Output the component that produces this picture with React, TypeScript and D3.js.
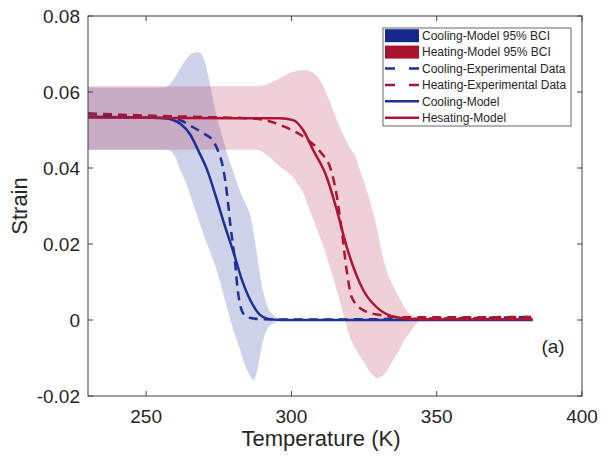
import React from "react";
import * as d3 from "d3";

// ---------- data ----------
const xTicks = [250, 300, 350, 400];
const yTicks = [-0.02, 0, 0.02, 0.04, 0.06, 0.08];
const yTickLabels = ["-0.02", "0", "0.02", "0.04", "0.06", "0.08"];

const coolModelT = [230, 250, 256, 259, 262, 265, 268, 271, 274, 277, 280, 283, 286, 289, 292, 296, 383];
const coolModelS = [0.0535, 0.0533, 0.0531, 0.0527, 0.0515, 0.049, 0.0445, 0.0395, 0.0325, 0.025, 0.018, 0.0105, 0.005, 0.0015, 0.0003, 0.0, 0.0];

const coolExpT = [230, 240, 250, 258, 262, 266, 270, 273, 275, 276.5, 277.8, 279, 280.5, 281.5, 282.5, 284, 286, 290, 300, 340, 383];
const coolExpS = [0.0542, 0.0538, 0.0535, 0.0532, 0.0525, 0.0508, 0.049, 0.0472, 0.044, 0.04, 0.0334, 0.025, 0.016, 0.008, 0.0035, 0.0012, 0.0005, 0.0002, 0.0001, 0.0003, 0.0008];

const heatModelT = [230, 290, 296, 300.6, 304, 307.5, 312.1, 315.6, 319, 324.7, 330.5, 336.2, 342, 383];
const heatModelS = [0.0533, 0.0531, 0.0531, 0.0526, 0.05, 0.0447, 0.0377, 0.029, 0.0193, 0.0079, 0.0026, 0.0007, 0.0002, 0.0002];

const heatExpT = [230, 250, 270, 285, 290.9, 297.8, 304.7, 310, 313.6, 315.3, 317.3, 319, 320.7, 324.7, 330.5, 338.5, 383];
const heatExpS = [0.0544, 0.0538, 0.0534, 0.0531, 0.0526, 0.0508, 0.0479, 0.0442, 0.0395, 0.034, 0.0237, 0.0132, 0.0061, 0.0026, 0.0013, 0.0007, 0.0008];

const coolBandT = [230, 256, 258, 260, 262, 264, 266, 268, 270, 272, 274, 276, 278, 280, 282, 284, 286, 287, 288, 290, 292, 294, 296, 383];
const coolBandHi = [0.0612, 0.0612, 0.062, 0.064, 0.0665, 0.0688, 0.0702, 0.0705, 0.0685, 0.062, 0.0545, 0.049, 0.0435, 0.039, 0.0345, 0.031, 0.027, 0.023, 0.018, 0.0085, 0.003, 0.0012, 0.0002, 0.0001];
const coolBandLo = [0.0448, 0.0448, 0.0446, 0.043, 0.039, 0.0355, 0.031, 0.0265, 0.022, 0.018, 0.0138, 0.0085, 0.0027, -0.0025, -0.007, -0.0118, -0.015, -0.0158, -0.014, -0.0062, -0.002, -0.0008, -0.0001, 0.0];

const heatBandT = [230, 288, 290, 292, 294, 296, 298, 300, 302, 304, 306, 308, 310, 312, 314, 316, 318, 320, 322, 324, 326, 328, 329.5, 331, 333, 335, 337, 339, 341, 343, 345, 383];
const heatBandHi = [0.0615, 0.0615, 0.0617, 0.0622, 0.0628, 0.0636, 0.0645, 0.0652, 0.0656, 0.0658, 0.0655, 0.0648, 0.063, 0.0597, 0.056, 0.052, 0.0485, 0.0455, 0.043, 0.0385, 0.034, 0.0285, 0.024, 0.018, 0.0125, 0.009, 0.006, 0.0033, 0.0015, 0.0005, 0.0002, 0.0002];
const heatBandLo = [0.0448, 0.0448, 0.0443, 0.0432, 0.0418, 0.0405, 0.0392, 0.038, 0.036, 0.0335, 0.0295, 0.0255, 0.0215, 0.017, 0.012, 0.0068, 0.001, -0.0042, -0.0075, -0.01, -0.0125, -0.0145, -0.0153, -0.0148, -0.0132, -0.0105, -0.008, -0.0052, -0.003, -0.001, 0.0001, 0.0002];

const legendLabels = [
  "Cooling-Model 95% BCI",
  "Heating-Model 95% BCI",
  "Cooling-Experimental Data",
  "Heating-Experimental Data",
  "Cooling-Model",
  "Hesating-Model",
];

// ---------- styles ----------
const BLUE = "#1c3097";
const RED = "#ad1535";
const BLUE_SW = "#15288c";
const RED_SW = "#a8122f";
const FONT = "'Liberation Sans', Arial, Helvetica, sans-serif";
const TXT = "#262626";

export default function App() {
  const W = 602, H = 461;
  const L = 88, R = 582, T = 16, B = 396;
  const x = d3.scaleLinear().domain([230, 400]).range([L, R]);
  const y = d3.scaleLinear().domain([-0.02, 0.08]).range([B, T]);

  const line = (ts: number[], ss: number[]) =>
    d3.line<number>().x((_, i) => x(ts[i])).y((d) => y(d)).curve(d3.curveMonotoneX)(ss) || "";
  const area = (ts: number[], lo: number[], hi: number[]) =>
    d3.area<number>()
      .x((_, i) => x(ts[i]))
      .y0((_, i) => y(lo[i]))
      .y1((_, i) => y(hi[i]))
      .curve(d3.curveMonotoneX)(ts) || "";

  const legX = 383, legY = 28, legW = 188, legH = 98;
  const rowY = (i: number) => 35.7 + i * 16.4;
  const swX0 = 385, swX1 = 419;

  return (
    <svg width={W} height={H} style={{ position: "absolute", left: 0, top: 0, background: "#fff" }}>
      <rect x={0} y={0} width={W} height={H} fill="#fff" />
      <defs>
        <clipPath id="plotclip">
          <rect x={L} y={T} width={R - L} height={B - T} />
        </clipPath>
      </defs>
      <g clipPath="url(#plotclip)">
        <path d={area(coolBandT, coolBandLo, coolBandHi)} fill={BLUE} fillOpacity={0.21} />
        <path d={area(heatBandT, heatBandLo, heatBandHi)} fill={RED} fillOpacity={0.2} />
        <path d={line(coolExpT, coolExpS)} fill="none" stroke={BLUE} strokeWidth={2.5} strokeDasharray="9,6" />
        <path d={line(heatExpT, heatExpS)} fill="none" stroke={RED} strokeWidth={2.5} strokeDasharray="9,6" />
        <path d={line(coolModelT, coolModelS)} fill="none" stroke={BLUE} strokeWidth={2.5} />
        <path d={line(heatModelT, heatModelS)} fill="none" stroke={RED} strokeWidth={2.5} />
      </g>

      {/* axes box */}
      <rect x={L} y={T} width={R - L} height={B - T} fill="none" stroke="#404040" strokeWidth={1} />
      {xTicks.map((t) => (
        <g key={"xt" + t}>
          <line x1={x(t)} x2={x(t)} y1={B} y2={B - 5} stroke="#404040" />
          <line x1={x(t)} x2={x(t)} y1={T} y2={T + 5} stroke="#404040" />
          <text x={x(t)} y={423} textAnchor="middle" fontFamily={FONT} fontSize={19} fill={TXT}>{t}</text>
        </g>
      ))}
      {yTicks.map((t, i) => (
        <g key={"yt" + t}>
          <line x1={L} x2={L + 5} y1={y(t)} y2={y(t)} stroke="#404040" />
          <line x1={R} x2={R - 5} y1={y(t)} y2={y(t)} stroke="#404040" />
          <text x={80} y={y(t) + 7} textAnchor="end" fontFamily={FONT} fontSize={19} fill={TXT}>{yTickLabels[i]}</text>
        </g>
      ))}
      <text x={321} y={446} textAnchor="middle" fontFamily={FONT} fontSize={22} fill={TXT}>Temperature (K)</text>
      <text transform={`translate(27,${(T + B) / 2}) rotate(-90)`} textAnchor="middle" fontFamily={FONT} fontSize={22} fill={TXT}>Strain</text>
      <text x={553} y={353} textAnchor="middle" fontFamily={FONT} fontSize={19} fill={TXT}>(a)</text>

      {/* legend */}
      <rect x={legX} y={legY} width={legW} height={legH} fill="#fff" stroke="#404040" strokeWidth={0.8} />
      <rect x={swX0} y={rowY(0) - 6.5} width={swX1 - swX0} height={13} fill={BLUE_SW} />
      <rect x={swX0} y={rowY(1) - 6.5} width={swX1 - swX0} height={13} fill={RED_SW} />
      <line x1={swX0} x2={swX1} y1={rowY(2)} y2={rowY(2)} stroke={BLUE} strokeWidth={2.5} strokeDasharray="10,14" />
      <line x1={swX0} x2={swX1} y1={rowY(3)} y2={rowY(3)} stroke={RED} strokeWidth={2.5} strokeDasharray="10,14" />
      <line x1={swX0} x2={swX1} y1={rowY(4)} y2={rowY(4)} stroke={BLUE} strokeWidth={2.5} />
      <line x1={swX0} x2={swX1} y1={rowY(5)} y2={rowY(5)} stroke={RED} strokeWidth={2.5} />
      {legendLabels.map((l, i) => (
        <text key={l} x={422} y={rowY(i) + 4.3} fontFamily={FONT} fontSize={12} fill={TXT}>{l}</text>
      ))}
    </svg>
  );
}
